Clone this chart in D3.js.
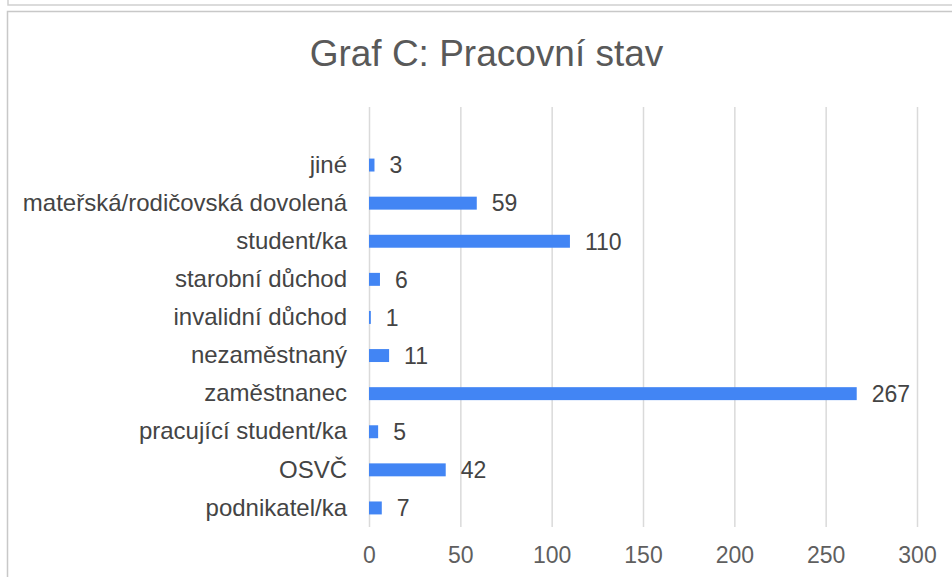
<!DOCTYPE html>
<html>
<head>
<meta charset="utf-8">
<script src="https://cdn.jsdelivr.net/npm/d3@7"></script>
<style>
  body { margin: 0; background: #fff; }
  svg text { font-family: "Liberation Sans", Arial, Helvetica, sans-serif; }
</style>
</head>
<body>
<svg id="chart" width="952" height="577"></svg>
<script>
// data, top to bottom
var categories = ['jiné', 'mateřská/rodičovská dovolená', 'student/ka', 'starobní důchod',
    'invalidní důchod', 'nezaměstnaný', 'zaměstnanec', 'pracující student/ka', 'OSVČ', 'podnikatel/ka'];
var values = [3, 59, 110, 6, 1, 11, 267, 5, 42, 7];
var xTicks = [0, 50, 100, 150, 200, 250, 300];
var chartTitle = 'Graf C: Pracovní stav';

var svg = d3.select('#chart');

// page frames (box above and chart box)
svg.append('path')
    .attr('d', 'M8,0 V5 H952')
    .attr('fill', 'none').attr('stroke', '#cfcfcf').attr('stroke-width', 1.5);
svg.append('path')
    .attr('d', 'M7.5,577 V11.5 H952')
    .attr('fill', 'none').attr('stroke', '#c8c8c8').attr('stroke-width', 1.5);

var plotTop = 107, plotBottom = 527;

var x = d3.scaleLinear().domain([0, 300]).range([369, 917]);
var y = d3.scaleBand().domain(categories).range([146, plotBottom])
    .paddingInner(0.66).paddingOuter(0.33);

// title
svg.append('text')
    .attr('x', 486.5)
    .attr('y', 66)
    .attr('text-anchor', 'middle')
    .style('font-size', '37px')
    .style('fill', '#595959')
    .text(chartTitle);

// x axis + gridlines
var xAxis = svg.append('g')
    .attr('transform', 'translate(0,' + plotBottom + ')')
    .call(d3.axisBottom(x).tickValues(xTicks).tickSize(-(plotBottom - plotTop)).tickPadding(20));
xAxis.select('.domain').remove();
xAxis.selectAll('.tick line').attr('stroke', '#dadada').attr('stroke-width', 1.5);
xAxis.selectAll('.tick text')
    .style('font-size', '23px')
    .style('fill', '#5f5f5f');

// category labels
var yAxis = svg.append('g')
    .attr('transform', 'translate(' + x(0) + ',0)')
    .call(d3.axisLeft(y).tickSize(0).tickPadding(22));
yAxis.select('.domain').remove();
yAxis.selectAll('.tick text')
    .style('font-size', '24px')
    .style('fill', '#444');

// bars
svg.selectAll('rect.bar')
    .data(values)
    .enter().append('rect')
    .attr('class', 'bar')
    .attr('x', x(0))
    .attr('y', function(d, i) { return y(categories[i]); })
    .attr('width', function(d) { return x(d) - x(0); })
    .attr('height', y.bandwidth())
    .attr('fill', '#4285f4');

// value labels
svg.selectAll('text.val')
    .data(values)
    .enter().append('text')
    .attr('class', 'val')
    .attr('x', function(d) { return x(d) + 15; })
    .attr('y', function(d, i) { return y(categories[i]) + y.bandwidth() / 2; })
    .attr('dy', '0.36em')
    .style('font-size', '23px')
    .style('fill', '#444')
    .text(function(d) { return d; });
</script>
</body>
</html>
